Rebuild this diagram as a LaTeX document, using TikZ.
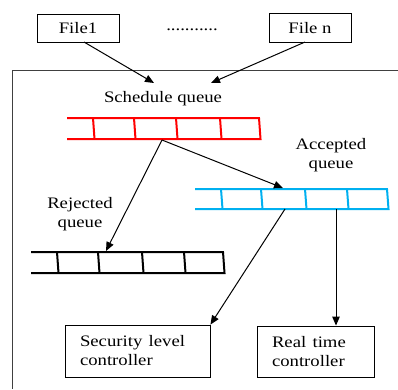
\documentclass[tikz,border=0pt]{standalone}
\usepackage{fontspec}
\setmainfont{Liberation Serif}
\usetikzlibrary{arrows.meta}
\definecolor{qblue}{RGB}{0,176,240}
\newcommand\hs[1]{\scalebox{1.17}[1]{#1}}
\begin{document}
\begin{tikzpicture}[x=1pt,y=-1pt,
  box/.style={draw, line width=0.9pt, inner sep=0pt},
  lbl/.style={font=\fontsize{16}{19}\selectfont, inner sep=0pt, align=center},
  conn/.style={-{Triangle[length=9pt,width=7.5pt]}, line width=1pt},
  qline/.style={line width=2pt},
  frame/.style={draw=black!75, line width=1pt}]
\useasboundingbox (0,0) rectangle (398,389);
% frame
\draw[frame] (398,70) -- (12,70) -- (12,389);
% file boxes
\node[box, lbl, minimum width=82, minimum height=28] (f1) at (78,28) {\hs{File1}};
\node[box, lbl, minimum width=82, minimum height=29] (fn) at (310,28) {\hs{File n}};
\node[lbl] (dots) at (192,30) {\hs{...........}};
% labels
\node[lbl] (sq) at (163,99) {\hs{Schedule queue}};
\node[lbl] (aq) at (331,155) {\hs{Accepted}\\\hs{queue}};
\node[lbl] (rq) at (80,214) {\hs{Rejected}\\\hs{queue}};
% queues
\draw[qline, red] (67,118) -- (259,118) -- (260.5,139) -- (67,139);
\foreach \x in {93,134,176,220} \draw[qline, red] (\x,118) -- (\x+1.5,139);
\draw[qline, qblue] (195,189) -- (387,189) -- (388.5,209) -- (195,209);
\foreach \x in {221,261,305,347} \draw[qline, qblue] (\x,189) -- (\x+1.5,209);
\draw[qline] (31,252) -- (223,252) -- (224.5,273) -- (31,273);
\foreach \x in {57,98,142,184} \draw[qline] (\x,252) -- (\x+1.5,273);
% controller boxes
\node[box, lbl, align=left, minimum width=145, minimum height=52, text width=115, inner xsep=15pt] (sec) at (137.5,351) {\hs{Security level}\\\hs{controller}};
\node[box, lbl, align=left, minimum width=117, minimum height=51, text width=87, inner xsep=15pt] (rt) at (315.5,351.5) {\hs{Real time}\\\hs{controller}};
% connector anchors
\coordinate (f1s) at (84,42);
\coordinate (fns) at (305,42);
\coordinate (sqa) at (154,83);
\coordinate (sqb) at (211,83);
\coordinate (redb) at (162,140);
\coordinate (bluet) at (283,188);
\coordinate (blackt) at (106,251);
\coordinate (blueb1) at (285,209);
\coordinate (blueb2) at (336,209);
% connectors
\draw[conn] (f1s) -- (sqa);
\draw[conn] (fns) -- (sqb);
\draw[conn] (redb) -- (bluet);
\draw[conn] (redb) -- (blackt);
\draw[conn] (blueb1) -- (sec.north east);
\draw[conn] (blueb2) -- (blueb2 |- rt.north);
\end{tikzpicture}
\end{document}
